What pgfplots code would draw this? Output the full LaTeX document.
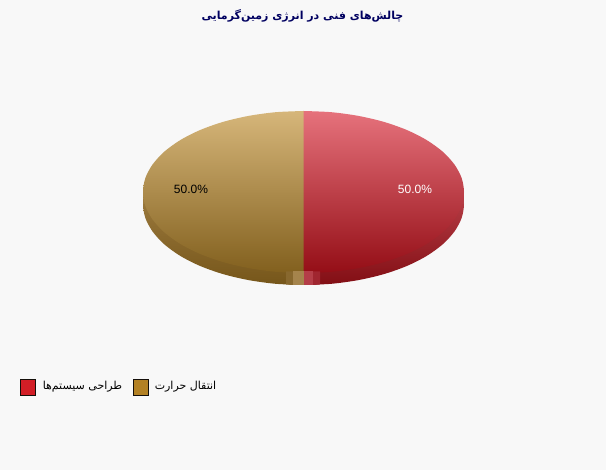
\documentclass[border=0pt]{standalone}
\usepackage{fontspec}
\setmainfont{Liberation Sans}
\newfontfamily\arabicfont[Script=Arabic]{DejaVu Sans}
\usepackage{pgfplots}
\pgfplotsset{compat=1.18}
\TeXXeTstate=1
\definecolor{bgc}{HTML}{F8F8F8}
\definecolor{titlec}{HTML}{000060}
\begin{document}
\begin{tikzpicture}
\begin{axis}[
  hide axis, scale only axis, width=606pt, height=470pt,
  xmin=0, xmax=606, ymin=0, ymax=470, y dir=reverse,
  clip=false, anchor=south west, at={(0,0)}]
\fill[bgc] (axis cs:0,0) rectangle (axis cs:606,470);
% side, right half
\addplot[draw=none, smooth, shade, top color={rgb,255:red,225;green,100;blue,110}, bottom color={rgb,255:red,130;green,14;blue,20}] coordinates {
 (303.5,123) (331.4,124.2) (358.4,127.9) (383.75,133.85) (406.7,141.95) (426.4,151.9) (442.5,163.5) (454.3,176.3) (461.6,189.9) (464,204) (461.6,218.1) (454.3,231.7) (442.5,244.5) (426.4,256.1) (406.7,266.05) (383.75,274.15) (358.4,280.1) (331.4,283.8) (303.5,285)};
\addplot[draw=none, fill={rgb,255:red,180;green,62;blue,70}] coordinates {(460,192) (464,192) (464,204) (460,204)} -- cycle;
% side, left half
\addplot[draw=none, smooth, shade, top color={rgb,255:red,185;green,150;blue,90}, bottom color={rgb,255:red,118;green,86;blue,26}] coordinates {
 (303.5,123) (275.6,124.2) (248.6,127.9) (223.25,133.85) (200.3,141.95) (180.6,151.9) (164.5,163.5) (152.7,176.3) (145.4,189.9) (143,204) (145.4,218.1) (152.7,231.7) (164.5,244.5) (180.6,256.1) (200.3,266.05) (223.25,274.15) (248.6,280.1) (275.6,283.8) (303.5,285)};
\addplot[draw=none, fill={rgb,255:red,158;green,124;blue,62}] coordinates {(147,192) (143,192) (143,204) (147,204)} -- cycle;
% top face, right half
\addplot[draw=none, smooth, shade, top color={rgb,255:red,230;green,114;blue,124}, bottom color={rgb,255:red,148;green,14;blue,22}] coordinates {
 (303.5,111) (331.4,112.2) (358.4,115.9) (383.75,121.85) (406.7,129.95) (426.4,139.9) (442.5,151.5) (454.3,164.3) (461.6,177.9) (464,192) (461.6,206.1) (454.3,219.7) (442.5,232.5) (426.4,244.1) (406.7,254.05) (383.75,262.15) (358.4,268.1) (331.4,271.8) (303.5,273)};
% top face, left half
\addplot[draw=none, smooth, shade, top color={rgb,255:red,214;green,182;blue,122}, bottom color={rgb,255:red,130;green,96;blue,30}] coordinates {
 (303.5,111) (275.6,112.2) (248.6,115.9) (223.25,121.85) (200.3,129.95) (180.6,139.9) (164.5,151.5) (152.7,164.3) (145.4,177.9) (143,192) (145.4,206.1) (152.7,219.7) (164.5,232.5) (180.6,244.1) (200.3,254.05) (223.25,262.15) (248.6,268.1) (275.6,271.8) (303.5,273)};
% highlight at the front of the pie
\addplot[draw=none, fill={rgb,255:red,136;green,104;blue,46}] coordinates {(286,271.5) (293,271.5) (293,285) (286,284.5)} -- cycle;
\addplot[draw=none, fill={rgb,255:red,165;green,132;blue,76}] coordinates {(293,271.5) (303.5,271.5) (303.5,285) (293,285)} -- cycle;
\addplot[draw=none, fill={rgb,255:red,180;green,62;blue,72}] coordinates {(303.5,271.5) (313,271.5) (313,285) (303.5,285)} -- cycle;
\addplot[draw=none, fill={rgb,255:red,160;green,38;blue,48}] coordinates {(313,271.5) (320,271.5) (320,284.5) (313,285)} -- cycle;
% legend swatches
\addplot[draw={rgb,255:red,20;green,15;blue,10}, line width=1pt, fill={rgb,255:red,179;green,129;blue,36}] coordinates {(133.5,379.5) (148.5,379.5) (148.5,395.5) (133.5,395.5)} -- cycle;
\addplot[draw={rgb,255:red,20;green,15;blue,10}, line width=1pt, fill={rgb,255:red,210;green,30;blue,38}] coordinates {(20.5,379.5) (35.5,379.5) (35.5,395.5) (20.5,395.5)} -- cycle;
% texts
\node[font=\fontsize{12}{14}\selectfont, text=black] at (axis cs:191,189.5) {50.0\%};
\node[font=\fontsize{12}{14}\selectfont, text=white] at (axis cs:415,189.5) {50.0\%};
\node[font=\arabicfont\bfseries\fontsize{11}{14}\selectfont, text=titlec] at (axis cs:302.5,16) {\beginR چالش‌های فنی در انرژی زمین‌گرمایی\endR};
\node[font=\arabicfont\fontsize{11}{14}\selectfont, text=black] at (axis cs:185.5,386.5) {\beginR انتقال حرارت\endR};
\node[font=\arabicfont\fontsize{11}{14}\selectfont, text=black] at (axis cs:82.5,386.5) {\beginR طراحی سیستم‌ها\endR};
\end{axis}
\end{tikzpicture}
\end{document}
